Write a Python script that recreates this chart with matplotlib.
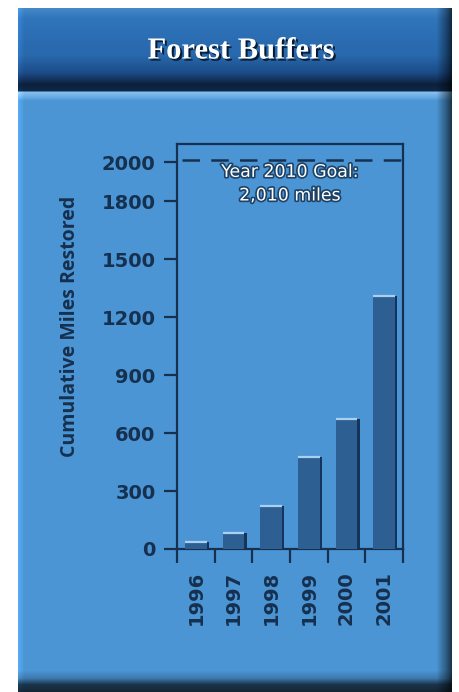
import numpy as np
import matplotlib
matplotlib.use("Agg")
import matplotlib.pyplot as plt
import matplotlib.patheffects as pe

# cumulative forest buffer miles restored per year
years = ["1996", "1997", "1998", "1999", "2000", "2001"]
miles = [35, 85, 225, 475, 675, 1310]
goal_miles = 2010
yticks = [0, 300, 600, 900, 1200, 1500, 1800, 2000]

navy = "#16304f"
bar_face = "#2d5f92"
bar_side = "#15345a"
bar_top = "#a8d0f0"

W, H = 460, 692
fig = plt.figure(figsize=(W / 100, H / 100), dpi=100)

# panel background: header band, light strip, shaded edges
img = np.ones((H, W, 3))
body = np.array([76, 149, 213]) / 255.0
img[8:, 18:452] = body

rows = np.arange(8, 100)
stops_y = [8, 18, 55, 72, 84, 90, 92, 97, 100]
stops_c = np.array([[68, 136, 200], [48, 116, 186], [40, 104, 172], [28, 76, 136],
                    [12, 32, 60], [14, 40, 72], [135, 190, 238], [100, 168, 225],
                    [76, 149, 213]]) / 255.0
for ch in range(3):
    img[8:100, 18:452, ch] = np.interp(rows, stops_y, stops_c[:, ch])[:, None]

# darker right edge and bottom band
cols = np.arange(18, 452)
shade = np.interp(cols, [18, 20, 24, 436, 446, 452], [1.15, 1.1, 1.0, 1.0, 0.6, 0.3])
img[8:, 18:452] *= shade[None, :, None]
brow = np.arange(670, 692)
bshade = np.interp(brow, [670, 678, 684, 692], [1.0, 0.8, 0.35, 0.25])
img[670:692, 18:452] *= bshade[:, None, None]
img = np.clip(img, 0, 1)

bg = fig.add_axes([0, 0, 1, 1], zorder=0)
bg.imshow(img, extent=(0, W, H, 0), aspect="auto", interpolation="bilinear")
bg.set_xlim(0, W)
bg.set_ylim(H, 0)
bg.axis("off")

bg.text(241, 51, "Forest Buffers", family="Liberation Serif", weight="bold",
        fontsize=22, color="white", ha="center", va="center",
        path_effects=[pe.withSimplePatchShadow(offset=(1.5, -1.5), shadow_rgbFace="#061428", alpha=0.9)])

bg.text(70, 326, "Cumulative Miles Restored", rotation=90, fontsize=14,
        weight="bold", family="Open Sans", color=navy, ha="center", va="center")

# chart area
ax = fig.add_axes([177 / W, 1 - 549 / H, 226 / W, 405 / H], zorder=1)
ax.patch.set_alpha(0)
x = np.arange(len(years))
bw = 0.58
ax.bar(x + 0.06, miles, bw, color=bar_side, zorder=2)
ax.bar(x, miles, bw, color=bar_face, zorder=3)
ax.hlines(miles, x - bw / 2, x + bw / 2, color=bar_top, lw=1.6, zorder=4)

ax.axhline(goal_miles, xmin=0.02, xmax=1, color=navy, lw=1.8, dashes=(7, 4.5), zorder=2)
ax.text(0.5, 0.902, "Year 2010 Goal:\n2,010 miles", transform=ax.transAxes,
        ha="center", va="center", fontsize=12.5, color="white", linespacing=1.4,
        path_effects=[pe.Stroke(linewidth=2.4, foreground="#1d4266"), pe.Normal()])

ax.set_xlim(-0.5, len(years) - 0.5)
ax.set_ylim(0, 2095)
ax.set_yticks(yticks)
ax.set_yticklabels([str(v) for v in yticks])
ax.set_xticks(x)
ax.set_xticklabels(years, rotation=90)
ax.set_xticks(np.arange(-0.5, len(years)), minor=True)

for s in ax.spines.values():
    s.set_color(navy)
    s.set_linewidth(1.6)
ax.tick_params(axis="y", direction="out", length=9.5, width=1.6, color=navy,
               labelcolor=navy, labelsize=14, pad=6)
ax.tick_params(axis="x", which="major", length=0, labelcolor=navy, labelsize=14, pad=16)
ax.tick_params(axis="x", which="minor", direction="out", length=10, width=1.6, color=navy)
for lab in ax.get_xticklabels() + ax.get_yticklabels():
    lab.set_fontweight("bold")

fig.savefig("out.png", dpi=100)
